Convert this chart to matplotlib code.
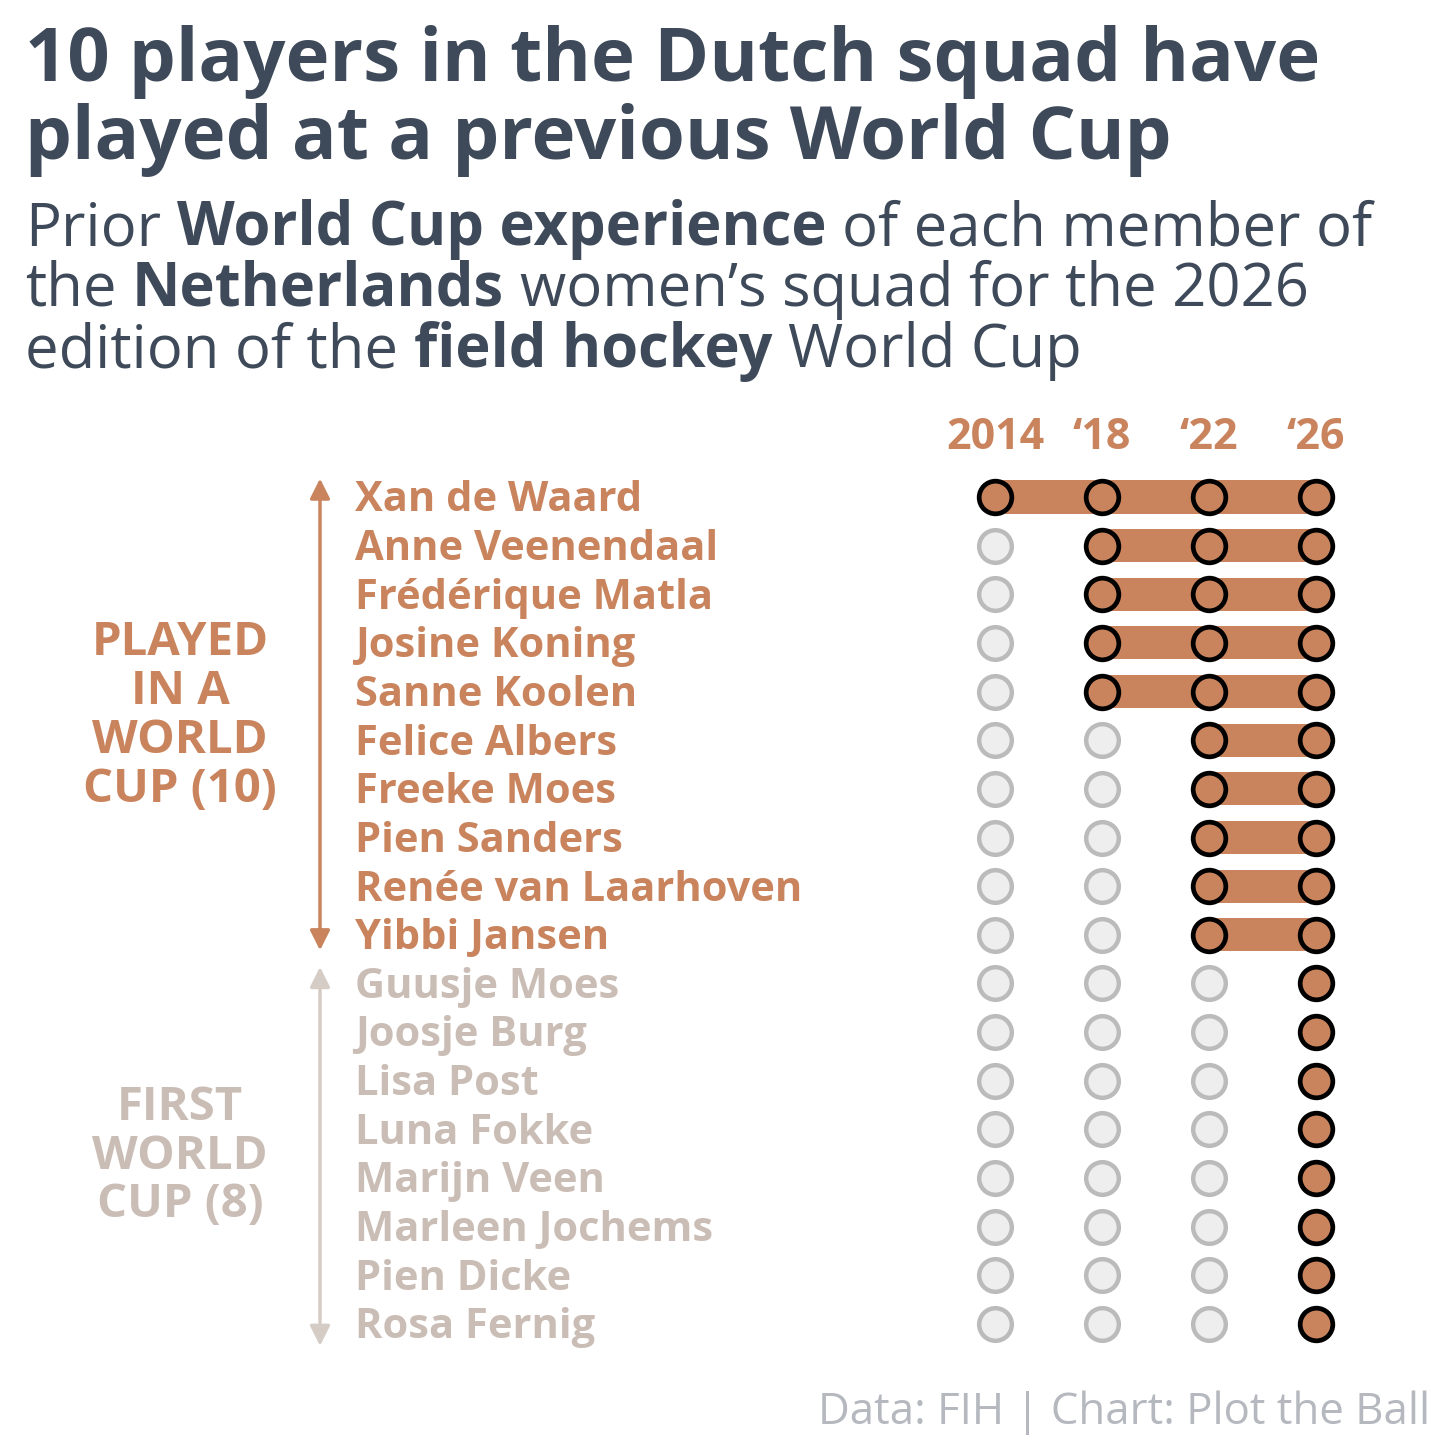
import matplotlib
matplotlib.use('Agg')
from matplotlib import pyplot as plt
from matplotlib.transforms import blended_transform_factory

plt.rcParams['font.family'] = ['Open Sans', 'DejaVu Sans']

years = [2014, 2018, 2022, 2026]
year_labels = ['2014', '\u201818', '\u201822', '\u201826']
players = ['Xan de Waard', 'Anne Veenendaal', 'Frédérique Matla', 'Josine Koning',
           'Sanne Koolen', 'Felice Albers', 'Freeke Moes', 'Pien Sanders',
           'Renée van Laarhoven', 'Yibbi Jansen', 'Guusje Moes', 'Joosje Burg',
           'Lisa Post', 'Luna Fokke', 'Marijn Veen', 'Marleen Jochems',
           'Pien Dicke', 'Rosa Fernig']
debut = [2014, 2018, 2018, 2018, 2018, 2022, 2022, 2022, 2022, 2022,
         2026, 2026, 2026, 2026, 2026, 2026, 2026, 2026]

ORANGE = '#C9845D'
GREY_TXT = '#CABDB5'
SLATE = '#3E4A59'

W = 1456
fig = plt.figure(figsize=(14.56, 14.56), dpi=100, facecolor='white')
ax = fig.add_axes([940 / W, 1 - 1360 / W, 430 / W, 900 / W])
ax.set_xlim(-0.514, 3.505)
ax.set_ylim(17.74, -0.76)
ax.axis('off')

for i, (name, d) in enumerate(zip(players, debut)):
    start = years.index(d)
    if start < 3:
        ax.barh(i, 3 - start, left=start, height=0.68, color=ORANGE, zorder=1)
    for j, yr in enumerate(years):
        if yr >= d:
            ax.plot(j, i, 'o', ms=23.5, mfc=ORANGE, mec='black', mew=3.4, zorder=3)
        else:
            ax.plot(j, i, 'o', ms=23.5, mfc='#EEEEEE', mec='#BBBBBB', mew=3.2, zorder=3)

# year header
tr_x = blended_transform_factory(ax.transData, fig.transFigure)
for j, lab in enumerate(year_labels):
    fig.text(j, 1 - 437 / W, lab, transform=tr_x, ha='center', va='center',
             fontsize=31, fontweight='bold', color=ORANGE)

# names
tr_y = blended_transform_factory(fig.transFigure, ax.transData)
n_played = sum(1 for d in debut if d < 2026)
for i, name in enumerate(players):
    col = ORANGE if i < n_played else GREY_TXT
    fig.text(355 / W, i + 0.08, name, transform=tr_y, ha='left', va='center',
             fontsize=30, fontweight='bold', color=col)

# arrows
ax.annotate('', xy=(320 / W, -0.38), xytext=(320 / W, 9.32), xycoords=tr_y,
            textcoords=tr_y,
            arrowprops=dict(arrowstyle='<|-|>', color=ORANGE, lw=2.5,
                            mutation_scale=30, shrinkA=0, shrinkB=0))
ax.annotate('', xy=(320 / W, 9.66), xytext=(320 / W, 17.45), xycoords=tr_y,
            textcoords=tr_y,
            arrowprops=dict(arrowstyle='<|-|>', color='#D5CCC6', lw=2.5,
                            mutation_scale=30, shrinkA=0, shrinkB=0))

fig.text(180 / W, 4.5, f'PLAYED\nIN A\nWORLD\nCUP ({n_played})', transform=tr_y,
         ha='center', va='center', fontsize=34, fontweight='bold', color=ORANGE,
         linespacing=1.05)
fig.text(180 / W, 13.55, f'FIRST\nWORLD\nCUP ({len(players) - n_played})',
         transform=tr_y, ha='center', va='center', fontsize=34,
         fontweight='bold', color=GREY_TXT, linespacing=1.05)

# title
fig.text(25 / W, 1 - 81 / W, '10 players in the Dutch squad have', fontsize=53.5,
         fontweight='bold', color=SLATE, va='baseline')
fig.text(25 / W, 1 - 159 / W, 'played at a previous World Cup', fontsize=53.5,
         fontweight='bold', color=SLATE, va='baseline')

# subtitle with mixed weights
fig.canvas.draw()
renderer = fig.canvas.get_renderer()


def width_of(s, weight, size):
    t = fig.text(0, 0, s, fontsize=size, fontweight=weight)
    w = t.get_window_extent(renderer).width
    t.remove()
    return w


def rich_line(x_px, y_px, parts, size):
    for k, (s, weight) in enumerate(parts):
        words = s.strip()
        if s.startswith(' ') and k > 0:
            x_px += width_of('a a', weight, size) - width_of('aa', weight, size)
        fig.text(x_px / W, 1 - y_px / W, words, fontsize=size, fontweight=weight,
                 color=SLATE, va='baseline')
        x_px += width_of(words, weight, size)
        if s.endswith(' '):
            x_px += width_of('a a', weight, size) - width_of('aa', weight, size)


SUB = 43
rich_line(25, 245, [('Prior ', 'normal'), ('World Cup experience', 'bold'),
                    (' of each member of', 'normal')], SUB)
rich_line(25, 306, [('the ', 'normal'), ('Netherlands', 'bold'),
                    (' women\u2019s squad for the 2026', 'normal')], SUB)
rich_line(25, 367, [('edition of the ', 'normal'), ('field hockey', 'bold'),
                    (' World Cup', 'normal')], SUB)

fig.text(1430 / W, 1 - 1424 / W, 'Data: FIH | Chart: Plot the Ball', fontsize=31.5,
         color='#B5B9BF', ha='right', va='baseline')

fig.savefig('out.png', dpi=100, facecolor='white')
